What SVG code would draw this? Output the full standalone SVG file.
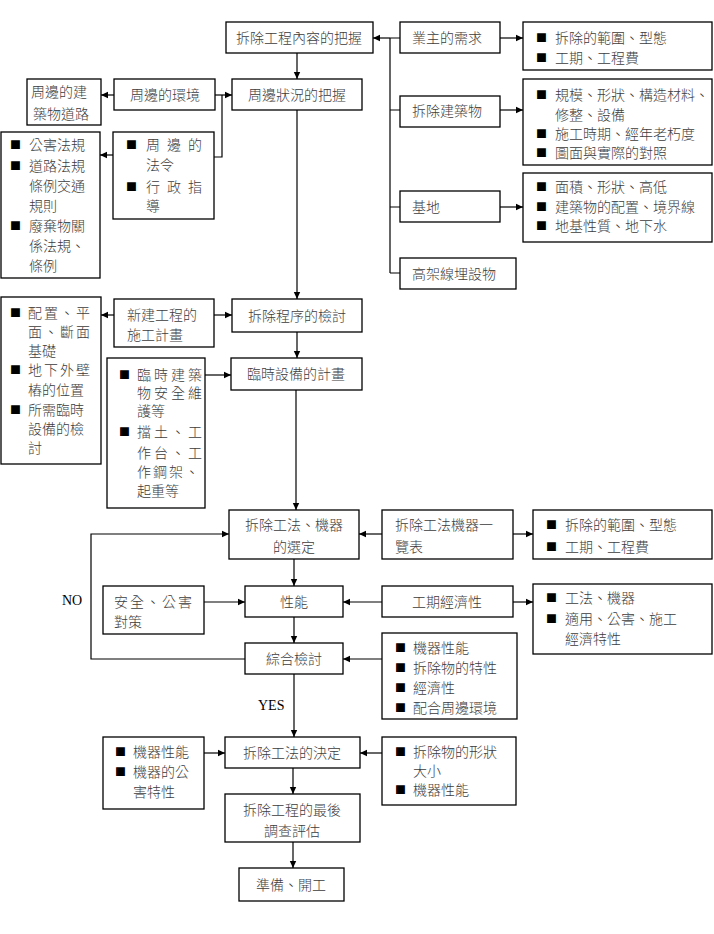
<svg xmlns="http://www.w3.org/2000/svg" width="714" height="934" viewBox="0 0 714 934">
<defs>
<marker id="ah" markerWidth="8" markerHeight="8" refX="7" refY="4" orient="auto" markerUnits="userSpaceOnUse"><path d="M0,0.8 L7,4 L0,7.2 z" fill="#000"/></marker>
<style>
.box{fill:#fff;stroke:#000;stroke-width:1.3}
.t{font-family:"Liberation Serif","Noto Sans CJK TC",serif;font-size:14px;font-weight:300;fill:#3c3c3c}
.c{text-anchor:middle}
.b{font-family:"Noto Sans CJK TC",sans-serif;font-size:11px;fill:#000}
.ln{fill:none;stroke:#000;stroke-width:1.2}
.ar{marker-end:url(#ah)}
.lbl{font-family:"Liberation Serif",serif;font-size:14px;fill:#000}
</style>
</defs>
<rect width="714" height="934" fill="#fff"/>

<g id="n_top"><rect class="box" x="226" y="22" width="147" height="31"/><text class="t c" x="299" y="43">拆除工程內容的把握</text></g>
<g id="n_owner"><rect class="box" x="400" y="22" width="100" height="31"/><text class="t" x="412" y="43">業主的需求</text></g>
<g id="n_owner_d"><rect class="box" x="523" y="22" width="189" height="48"/>
<text class="b" x="536" y="42">■</text><text class="t" x="555" y="43">拆除的範圍、型態</text>
<text class="b" x="536" y="62">■</text><text class="t" x="555" y="63">工期、工程費</text></g>
<g id="n_bldg"><rect class="box" x="400" y="96" width="100" height="31"/><text class="t" x="412" y="116">拆除建築物</text></g>
<g id="n_bldg_d"><rect class="box" x="523" y="79" width="189" height="86"/>
<text class="b" x="536" y="99">■</text><text class="t" x="555" y="100">規模、形狀、構造材料、</text>
<text class="t" x="555" y="120">修整、設備</text>
<text class="b" x="536" y="138">■</text><text class="t" x="555" y="139">施工時期、經年老朽度</text>
<text class="b" x="536" y="157">■</text><text class="t" x="555" y="158">圖面與實際的對照</text></g>
<g id="n_site"><rect class="box" x="400" y="191" width="100" height="31"/><text class="t" x="412" y="212">基地</text></g>
<g id="n_site_d"><rect class="box" x="523" y="173" width="189" height="69"/>
<text class="b" x="536" y="191">■</text><text class="t" x="555" y="192">面積、形狀、高低</text>
<text class="b" x="536" y="211">■</text><text class="t" x="555" y="212">建築物的配置、境界線</text>
<text class="b" x="536" y="230">■</text><text class="t" x="555" y="231">地基性質、地下水</text></g>
<g id="n_wire"><rect class="box" x="400" y="258" width="116" height="31"/><text class="t" x="412" y="279">高架線埋設物</text></g>

<g id="n_around"><rect class="box" x="232" y="79" width="130" height="31"/><text class="t c" x="297" y="100">周邊狀況的把握</text></g>
<g id="n_env"><rect class="box" x="114" y="79" width="101" height="31"/><text class="t c" x="165" y="100">周邊的環境</text></g>
<g id="n_envb"><rect class="box" x="27" y="79" width="74" height="46"/><text class="t" x="31" y="97">周邊的建</text><text class="t" x="33" y="119">築物道路</text></g>
<g id="n_law"><rect class="box" x="113" y="132" width="101" height="87"/>
<text class="b" x="126" y="149">■</text><text class="t" x="146" y="150" textLength="56" lengthAdjust="spacing">周邊的</text>
<text class="t" x="146" y="170">法令</text>
<text class="b" x="126" y="191">■</text><text class="t" x="146" y="192" textLength="56" lengthAdjust="spacing">行政指</text>
<text class="t" x="146" y="211">導</text></g>
<g id="n_lawd"><rect class="box" x="1" y="132" width="99" height="146"/>
<text class="b" x="10" y="149">■</text><text class="t" x="29" y="150">公害法規</text>
<text class="b" x="10" y="170">■</text><text class="t" x="29" y="171">道路法規</text>
<text class="t" x="29" y="191">條例交通</text>
<text class="t" x="29" y="211">規則</text>
<text class="b" x="10" y="230">■</text><text class="t" x="29" y="231">廢棄物關</text>
<text class="t" x="29" y="251">係法規、</text>
<text class="t" x="29" y="271">條例</text></g>

<g id="n_proc"><rect class="box" x="232" y="299" width="130" height="33"/><text class="t c" x="297" y="321">拆除程序的檢討</text></g>
<g id="n_new"><rect class="box" x="114" y="299" width="100" height="48"/><text class="t" x="127" y="320">新建工程的</text><text class="t" x="127" y="340">施工計畫</text></g>
<g id="n_newd"><rect class="box" x="1" y="297" width="100" height="167"/>
<text class="b" x="10" y="317">■</text><text class="t" x="28" y="318" textLength="62" lengthAdjust="spacing">配置、平</text>
<text class="t" x="28" y="337" textLength="62" lengthAdjust="spacing">面、斷面</text>
<text class="t" x="28" y="356">基礎</text>
<text class="b" x="10" y="374">■</text><text class="t" x="28" y="375" textLength="62" lengthAdjust="spacing">地下外壁</text>
<text class="t" x="28" y="395">樁的位置</text>
<text class="b" x="10" y="414">■</text><text class="t" x="28" y="415">所需臨時</text>
<text class="t" x="28" y="434">設備的檢</text>
<text class="t" x="28" y="453">討</text></g>
<g id="n_temp"><rect class="box" x="231" y="358" width="131" height="32"/><text class="t c" x="296" y="379">臨時設備的計畫</text></g>
<g id="n_tempd"><rect class="box" x="107" y="358" width="98" height="150"/>
<text class="b" x="119" y="379">■</text><text class="t" x="137" y="380" textLength="65" lengthAdjust="spacing">臨時建築</text>
<text class="t" x="137" y="398" textLength="65" lengthAdjust="spacing">物安全維</text>
<text class="t" x="137" y="416">護等</text>
<text class="b" x="119" y="436">■</text><text class="t" x="137" y="437" textLength="65" lengthAdjust="spacing">擋土、工</text>
<text class="t" x="137" y="458" textLength="65" lengthAdjust="spacing">作台、工</text>
<text class="t" x="137" y="477" textLength="62" lengthAdjust="spacing">作鋼架、</text>
<text class="t" x="137" y="496">起重等</text></g>

<g id="n_sel"><rect class="box" x="229" y="510" width="130" height="49"/><text class="t c" x="294" y="530">拆除工法、機器</text><text class="t c" x="294" y="552">的選定</text></g>
<g id="n_list"><rect class="box" x="382" y="510" width="131" height="49"/><text class="t" x="395" y="530">拆除工法機器一</text><text class="t" x="395" y="552">覽表</text></g>
<g id="n_listd"><rect class="box" x="533" y="510" width="179" height="49"/>
<text class="b" x="546" y="529">■</text><text class="t" x="565" y="530">拆除的範圍、型態</text>
<text class="b" x="546" y="551">■</text><text class="t" x="565" y="552">工期、工程費</text></g>
<g id="n_safe"><rect class="box" x="103" y="586" width="101" height="48"/><text class="t" x="114" y="607" textLength="78" lengthAdjust="spacing">安全、公害</text><text class="t" x="114" y="627">對策</text></g>
<g id="n_perf"><rect class="box" x="245" y="586" width="98" height="31"/><text class="t c" x="294" y="607">性能</text></g>
<g id="n_econ"><rect class="box" x="382" y="586" width="131" height="31"/><text class="t c" x="447" y="607">工期經濟性</text></g>
<g id="n_econd"><rect class="box" x="533" y="584" width="179" height="70"/>
<text class="b" x="546" y="602">■</text><text class="t" x="565" y="603">工法、機器</text>
<text class="b" x="546" y="623">■</text><text class="t" x="565" y="624">適用、公害、施工</text>
<text class="t" x="565" y="644">經濟特性</text></g>
<g id="n_total"><rect class="box" x="245" y="643" width="98" height="31"/><text class="t c" x="294" y="664">綜合檢討</text></g>
<g id="n_totald"><rect class="box" x="382" y="633" width="135" height="86"/>
<text class="b" x="395" y="652">■</text><text class="t" x="413" y="653">機器性能</text>
<text class="b" x="395" y="672">■</text><text class="t" x="413" y="673">拆除物的特性</text>
<text class="b" x="395" y="692">■</text><text class="t" x="413" y="693">經濟性</text>
<text class="b" x="395" y="712">■</text><text class="t" x="413" y="713">配合周邊環境</text></g>
<g id="n_dec"><rect class="box" x="225" y="737" width="135" height="31"/><text class="t c" x="292" y="758">拆除工法的決定</text></g>
<g id="n_decl"><rect class="box" x="103" y="737" width="101" height="72"/>
<text class="b" x="115" y="756">■</text><text class="t" x="133" y="757">機器性能</text>
<text class="b" x="115" y="776">■</text><text class="t" x="133" y="777">機器的公</text>
<text class="t" x="133" y="797">害特性</text></g>
<g id="n_decr"><rect class="box" x="382" y="737" width="134" height="68"/>
<text class="b" x="395" y="756">■</text><text class="t" x="413" y="757">拆除物的形狀</text>
<text class="t" x="413" y="776">大小</text>
<text class="b" x="395" y="794">■</text><text class="t" x="413" y="795">機器性能</text></g>
<g id="n_eval"><rect class="box" x="225" y="794" width="135" height="48"/><text class="t c" x="292" y="815">拆除工程的最後</text><text class="t c" x="292" y="836">調查評估</text></g>
<g id="n_start"><rect class="box" x="239" y="868" width="105" height="33"/><text class="t c" x="291" y="890">準備、開工</text></g>

<g id="connectors">
<path class="ln ar" d="M297,53 V79"/>
<path class="ln" d="M390,38 V273 M390,38 H400 M390,110 H400 M390,207 H400 M390,273 H400"/>
<path class="ln ar" d="M390,38 H373"/>
<path class="ln ar" d="M500,38 H523"/>
<path class="ln ar" d="M500,110 H523"/>
<path class="ln ar" d="M500,207 H523"/>
<path class="ln ar" d="M215,95 H232"/>
<path class="ln" d="M222,95 V157 H214"/>
<path class="ln ar" d="M114,95 H101"/>
<path class="ln ar" d="M113,155 H100"/>
<path class="ln ar" d="M297,110 V299"/>
<path class="ln ar" d="M214,315 H232"/>
<path class="ln ar" d="M114,315 H101"/>
<path class="ln ar" d="M297,332 V358"/>
<path class="ln ar" d="M205,375 H231"/>
<path class="ln ar" d="M296,390 V510"/>
<path class="ln ar" d="M382,534 H359"/>
<path class="ln ar" d="M513,534 H533"/>
<path class="ln ar" d="M294,559 V586"/>
<path class="ln ar" d="M204,602 H245"/>
<path class="ln ar" d="M382,602 H343"/>
<path class="ln ar" d="M513,602 H533"/>
<path class="ln ar" d="M294,617 V643"/>
<path class="ln ar" d="M382,659 H343"/>
<path class="ln ar" d="M245,659 H91 V534 H229"/>
<path class="ln ar" d="M294,674 V737"/>
<path class="ln ar" d="M204,753 H225"/>
<path class="ln ar" d="M382,753 H360"/>
<path class="ln ar" d="M293,768 V794"/>
<path class="ln ar" d="M293,842 V868"/>
<text class="lbl" x="62" y="605">NO</text>
<text class="lbl" x="258" y="710">YES</text>
</g>
</svg>
